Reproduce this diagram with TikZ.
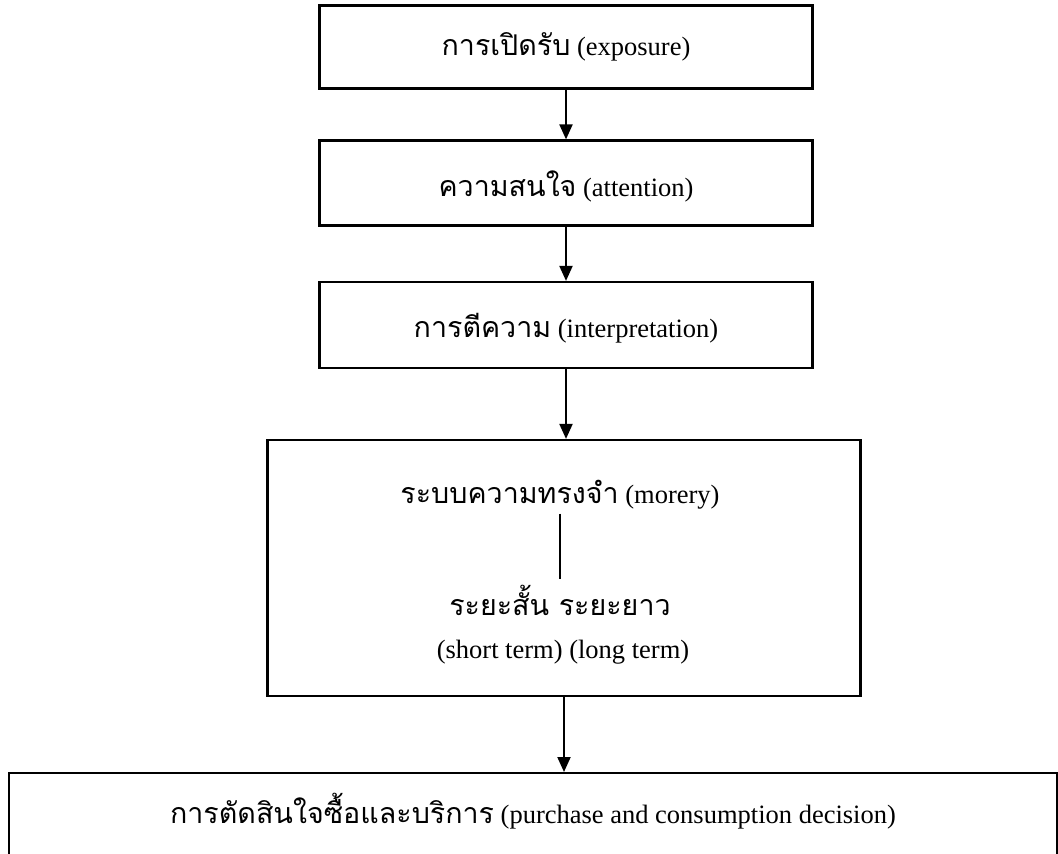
\documentclass[tikz,border=0pt]{standalone}
\usepackage{fontspec}
\setmainfont{Liberation Serif}
\newfontfamily\thai[Script=Thai,Scale=1.08]{Loma}
\usetikzlibrary{arrows.meta}
\tikzset{
  stagebox/.style={draw, line width=2.2pt, inner sep=0pt, minimum width=493pt},
  lbl/.style={inner sep=0pt, font=\fontsize{26.5}{31}\selectfont},
  arr/.style={line width=2pt, -{Triangle[length=15pt,width=13pt]}},
  thin/.style={line width=1.4pt}
}
\begin{document}
\begin{tikzpicture}[x=1pt,y=-1pt]
\useasboundingbox (0,0) rectangle (1058,854);
\node[stagebox, minimum height=83pt] (b1) at (566,47) {};
\node[lbl] (t1) at (566,47) {{\thai การเปิดรับ} (exposure)};
\node[stagebox, minimum height=85pt] (b2) at (566,183) {};
\node[lbl] (t2) at (566,186) {{\thai ความสนใจ} (attention)};
\node[stagebox, minimum height=86pt] (b3) at (566,325) {};
\node[lbl] (t3) at (566,328) {{\thai การตีความ} (interpretation)};
\node[stagebox, minimum width=593pt, minimum height=256pt] (b4) at (564,568) {};
\node[lbl] (t4a) at (560,495) {{\thai ระบบความทรงจำ} (morery)};
\node[lbl] (t4b) at (560,600) {\thai ระยะสั้น ระยะยาว};
\node[lbl] (t4c) at (563,652) {(short term) (long term)};
\node[draw, line width=2.2pt, inner sep=0pt, anchor=north, minimum width=1048pt,
      text height=50pt, text depth=78pt, font=\fontsize{26.5}{31}\selectfont] (dec) at (533,772)
      {{\thai การตัดสินใจซื้อและบริการ} (purchase and consumption decision)};
\draw[arr] (b1.south -| t1) -- (b2.north -| t1);
\draw[arr] (b2.south -| t1) -- (b3.north -| t1);
\draw[arr] (b3.south -| t1) -- (b4.north -| t1);
\draw[thin] ([yshift=-4pt]t4a.south) -- ([yshift=6pt]t4b.north);
\draw[arr] (b4.south) -- (b4.south |- dec.north);
\end{tikzpicture}
\end{document}
